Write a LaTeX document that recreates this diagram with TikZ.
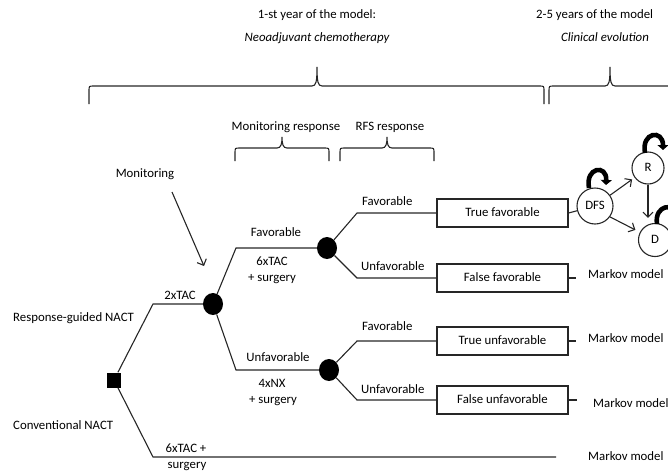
\documentclass[tikz,border=0pt]{standalone}
\usepackage{fontspec}
\setmainfont{Carlito}
\usetikzlibrary{arrows.meta,shapes.geometric,calc}
\newcommand\mybrace[6]{%
  \draw[line] (#1,#4) -- (#1,#5+5) .. controls (#1,#5) .. (#1+5,#5) -- (#3-5,#5)
    .. controls (#3-1,#5) and (#3,#5-4) .. (#3,#6)
    .. controls (#3,#5-4) and (#3+1,#5) .. (#3+5,#5) -- (#2-5,#5)
    .. controls (#2,#5) .. (#2,#5+5) -- (#2,#4);}
\begin{document}
\begin{tikzpicture}[x=1pt,y=-1pt,
  every node/.style={font=\fontsize{12.8}{15}\selectfont, inner sep=0pt, text height=8.5pt, text depth=2.5pt, text=black},
  line/.style={draw=black!85, line width=1.1pt},
  chance/.style={ellipse, fill=black, minimum width=20pt, minimum height=22pt},
  decision/.style={rectangle, fill=black, minimum width=14pt, minimum height=15pt},
  outcome/.style={rectangle, draw=black!85, line width=1.1pt, minimum width=131pt, minimum height=28pt},
  state/.style={circle, draw=black!85, line width=1.1pt, inner sep=0pt},
  arr/.style={line, -{Straight Barb[length=5pt,width=10pt,line width=1.1pt]}},
  selfloop/.style={line width=4.6pt, black, -{Triangle[length=5pt,width=11pt]}},
]
\useasboundingbox (0,0) rectangle (668,471);
\clip (0,0) rectangle (668,471);

% header texts
\node (t1) at (317,15) {1-st year of the model:};
\node (t2) at (317,38) {\itshape Neoadjuvant chemotherapy};
\node[anchor=west] (t3) at (536,15) {2-5 years of the model};
\node (t4) at (605,38) {\itshape Clinical evolution};

% braces
\mybrace{89}{544}{317}{104}{86}{67}
\mybrace{549}{720}{610}{104}{86}{67}
\node (mr) at (286,127) {Monitoring response};
\node (rr) at (390,127) {RFS response};
\mybrace{235}{329}{282}{161}{148}{137}
\mybrace{340}{434}{387}{161}{148}{137}

% monitoring arrow
\node (mon) at (145,174) {Monitoring};
\coordinate (ma) at (172,192);
\coordinate (mb) at (204,266);
\draw[arr] (ma) -- (mb);

% tree nodes
\node[decision] (sq) at (114,380) {};
\node[chance] (c1) at (213,304) {};
\node[chance] (c2) at (327,248) {};
\node[chance] (c3) at (329,370) {};

\node[outcome] (box1) at (502.5,213) {True favorable};
\node[outcome] (box2) at (502.5,278) {False favorable};
\node[outcome] (box3) at (502.5,341) {True unfavorable};
\node[outcome] (box4) at (502.5,400) {False unfavorable};

% bend points
\coordinate (b1) at (153,304);
\coordinate (b0) at (153,457);
\coordinate (e0) at (556,457);
\coordinate (b2) at (236,248);
\coordinate (b3) at (236,370);
\coordinate (b4) at (357,213);
\coordinate (b5) at (357,278);
\coordinate (b6) at (357,341);
\coordinate (b7) at (357,400);
\coordinate (dd2) at (576,278);
\coordinate (dd3) at (576,341);
\coordinate (dd4) at (577,400);

\draw[line] (sq) -- (b1) -- (c1);
\draw[line] (sq) -- (b0) -- (e0);
\draw[line] (c1) -- (b2) -- (c2);
\draw[line] (c1) -- (b3) -- (c3);
\draw[line] (c2) -- (b4) -- (box1.west);
\draw[line] (c2) -- (b5) -- (box2.west);
\draw[line] (c3) -- (b6) -- (box3.west);
\draw[line] (c3) -- (b7) -- (box4.west);
\draw[line] (box2.east) -- (dd2);
\draw[line] (box3.east) -- (dd3);
\draw[line] (box4.east) -- (dd4);

% tree labels
\node[anchor=west] (rg) at (13,318) {Response-guided NACT};
\node[anchor=west] (cn) at (13,426) {Conventional NACT};
\node (l2x) at (180,296) {2xTAC};
\node (lf1) at (276,233) {Favorable};
\node (l6a) at (272,262) {6xTAC};
\node (l6b) at (272,278) {+ surgery};
\node (lu1) at (278,358) {Unfavorable};
\node (l4a) at (272,384) {4xNX};
\node (l4b) at (273,400) {+ surgery};
\node (l6c) at (186,449) {6xTAC +};
\node (l6d) at (187,465) {surgery};
\node[anchor=west] (lf2) at (362,202) {Favorable};
\node[anchor=west] (lu2) at (361,267) {Unfavorable};
\node[anchor=west] (lf3) at (362,327) {Favorable};
\node[anchor=west] (lu3) at (361,390) {Unfavorable};

% Markov model labels
\node[anchor=west] (mk2) at (588,275) {Markov model};
\node[anchor=west] (mk3) at (588,339) {Markov model};
\node[anchor=west] (mk4) at (593,404) {Markov model};
\node[anchor=west] (mk5) at (588,457) {Markov model};

% Markov states
\node[state, minimum size=36pt] (dfs) at (595,206) {DFS};
\node[state, minimum size=32pt] (r) at (648,168) {R};
\node[state, minimum size=33pt] (d) at (655,240) {D};
\draw[line] (box1.east) -- (dfs);
\draw[arr, shorten >=3pt] (dfs) -- (r);
\draw[arr, shorten >=5pt] (dfs.-36) -- (d);
\draw[arr, shorten >=5pt] (r.south) -- (r.south |- d.north);
\draw[selfloop] (589,188) .. controls (585,167) and (607,164) .. (606,185);
\draw[selfloop] (645,153) .. controls (641,132) and (663,129) .. (663,150);
\draw[selfloop] (657,224) .. controls (654,205) and (675,202) .. (675,220);
\end{tikzpicture}
\end{document}
